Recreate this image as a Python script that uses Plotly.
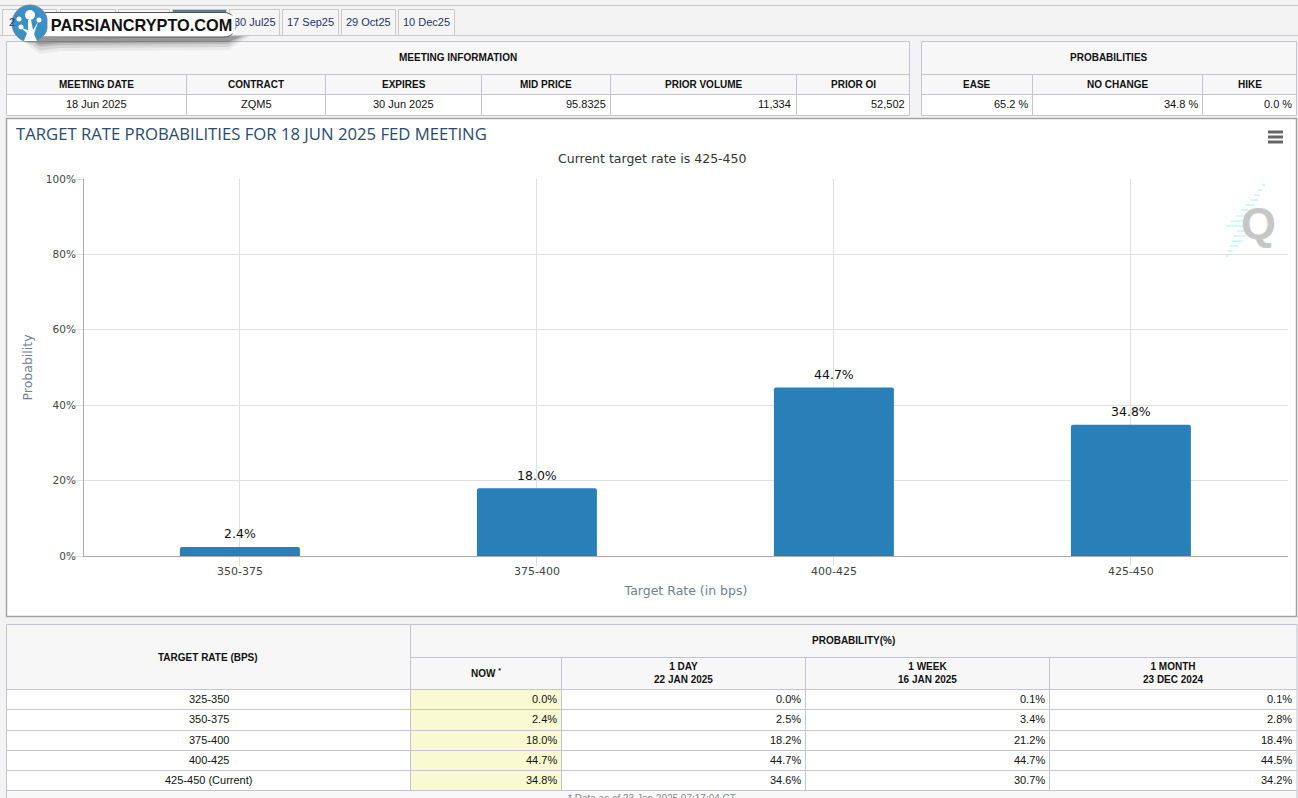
import plotly.graph_objects as go

W, H = 1298, 798

# chart data
RATE_BINS = ['350-375', '375-400', '400-425', '425-450']
RATE_PROBS = [2.4, 18.0, 44.7, 34.8]
Y_TICKS = [0, 20, 40, 60, 80, 100]

# tabs
TAB_LABELS = ['2', '', '', '', '30 Jul25', '17 Sep25', '29 Oct25', '10 Dec25']

# meeting information table
MEETING_HEADERS = ['MEETING DATE', 'CONTRACT', 'EXPIRES', 'MID PRICE', 'PRIOR VOLUME', 'PRIOR OI']
MEETING_VALUES = ['18 Jun 2025', 'ZQM5', '30 Jun 2025', '95.8325', '11,334', '52,502']

# probabilities table
PROB_HEADERS = ['EASE', 'NO CHANGE', 'HIKE']
PROB_VALUES = ['65.2 %', '34.8 %', '0.0 %']

# history table
HIST_RATES = ['325-350', '350-375', '375-400', '400-425', '425-450 (Current)']
HIST_NOW = ['0.0%', '2.4%', '18.0%', '44.7%', '34.8%']
HIST_1D = ['0.0%', '2.5%', '18.2%', '44.7%', '34.6%']
HIST_1W = ['0.1%', '3.4%', '21.2%', '44.7%', '30.7%']
HIST_1M = ['0.1%', '2.8%', '18.4%', '44.5%', '34.2%']
HIST_HEADERS = ['NOW <sup>*</sup>', '1 DAY<br>22 JAN 2025', '1 WEEK<br>16 JAN 2025', '1 MONTH<br>23 DEC 2024']

BORDER = '#c3c3d1'
HEAD_BG = '#f7f7f7'
PAGE_BG = '#f3f3f3'
TABLE_FONT = 'Liberation Sans'
CHART_FONT = 'DejaVu Sans'


def px(x):
    return x / W


def py(y):
    return 1 - y / H


shapes = []
annotations = []


def rect(x0, y0, x1, y1, fill=None, line=BORDER, width=1):
    shapes.append(dict(type='rect', xref='paper', yref='paper', x0=px(x0), y0=py(y0), x1=px(x1), y1=py(y1),
                       fillcolor=fill or 'rgba(0,0,0,0)', line=dict(color=line, width=width), layer='below'))


def label(x, y, text, size=11, color='#111111', anchor='center', font=TABLE_FONT, bold=False):
    if bold:
        text = f'<b>{text}</b>'.replace('<br>', '</b><br><b>')
    annotations.append(dict(x=px(x), y=py(y), xref='paper', yref='paper', text=text, showarrow=False,
                            xanchor=anchor, yanchor='middle', align='center',
                            font=dict(family=font, size=size, color=color)))


def cell(x0, y0, x1, y1, text, fill='#ffffff', anchor='center', size=11, bold=False):
    rect(x0, y0, x1, y1, fill)
    mid = (y0 + y1) / 2 - (0 if bold else 1)
    if anchor == 'right':
        label(x1 - 3, mid, text, size, anchor='right', bold=bold)
    else:
        label((x0 + x1) / 2, mid, text, size, bold=bold)


# top strip and tabs
shapes.append(dict(type='line', xref='paper', yref='paper', x0=0, x1=1, y0=py(5.5), y1=py(5.5),
                   line=dict(color='#c9c9c9', width=1), layer='below'))
shapes.append(dict(type='line', xref='paper', yref='paper', x0=0, x1=1, y0=py(35.5), y1=py(35.5),
                   line=dict(color='#c9c9c9', width=1), layer='below'))
tab_edges = [(2.5, 56.5), (60.5, 115.5), (118.5, 169.5), (172.5, 226.5), (229.5, 279.5),
             (282.5, 338.5), (341.5, 395.5), (398.5, 454.5)]
for i, (x0, x1) in enumerate(tab_edges):
    rect(x0, 9.5, x1, 35.5, '#5d7a96' if i == 3 else '#f5f5f5', '#c9c9c9')
label(7, 22, TAB_LABELS[0], 11, '#25336b', anchor='left')
for i in range(4, 8):
    label(sum(tab_edges[i]) / 2, 22, TAB_LABELS[i], 11, '#25336b')

# meeting information
meeting_cols = [6.5, 186.5, 325.5, 481.5, 610.5, 796.5, 909.5]
rect(meeting_cols[0], 41.5, meeting_cols[-1], 74.5, HEAD_BG)
label(458, 58, 'MEETING INFORMATION', 10, bold=True)
for i in range(6):
    x0, x1 = meeting_cols[i], meeting_cols[i + 1]
    cell(x0, 74.5, x1, 94.5, MEETING_HEADERS[i], HEAD_BG, size=10, bold=True)
    cell(x0, 94.5, x1, 115.5, MEETING_VALUES[i], anchor='right' if i > 2 else 'center')

# probabilities
prob_cols = [921.5, 1032.5, 1202.5, 1296.5]
rect(prob_cols[0], 41.5, prob_cols[-1], 74.5, HEAD_BG)
label(1109, 58, 'PROBABILITIES', 10, bold=True)
for i in range(3):
    x0, x1 = prob_cols[i], prob_cols[i + 1]
    cell(x0, 74.5, x1, 94.5, PROB_HEADERS[i], HEAD_BG, size=10, bold=True)
    cell(x0, 94.5, x1, 115.5, PROB_VALUES[i], anchor='right')

# chart frame
rect(6.5, 118.5, 1296.5, 616.5, '#ffffff', '#a3a3a3', 1.5)
for y in (132, 137, 142):
    shapes.append(dict(type='line', xref='paper', yref='paper', x0=px(1268), x1=px(1283), y0=py(y), y1=py(y),
                       line=dict(color='#666666', width=3)))

# watermark streaks
streaks = [(185, 1262, 1265), (190, 1258, 1262), (195, 1254, 1260), (200, 1250, 1258), (205, 1245, 1255),
           (210, 1241, 1248), (216, 1236, 1244), (221, 1231, 1244), (226, 1226, 1244), (231, 1237, 1244),
           (236, 1234, 1245), (241, 1232, 1243), (246, 1230, 1238), (251, 1228, 1233), (256, 1226, 1228)]
for y, x0, x1 in streaks:
    shapes.append(dict(type='line', xref='paper', yref='paper', x0=px(x0), x1=px(x1), y0=py(y), y1=py(y),
                       line=dict(color='#c8f5f7', width=1.5)))
label(1258, 223, '<b>Q</b>', 45, '#c6c6c6')

# history table
hist_cols = [6.5, 410.5, 561.5, 805.5, 1049.5, 1297]
hist_rows = [689.5, 709.5, 730.5, 750.5, 770.5, 790.5]
rect(6.5, 624.5, 410.5, 689.5, HEAD_BG)
label(208, 657, 'TARGET RATE (BPS)', 10, bold=True)
rect(410.5, 624.5, 1297, 657.5, HEAD_BG)
label(853, 640, 'PROBABILITY(%)', 10, bold=True)
for i in range(4):
    rect(hist_cols[i + 1], 657.5, hist_cols[i + 2], 689.5, HEAD_BG)
    label((hist_cols[i + 1] + hist_cols[i + 2]) / 2, 673, HIST_HEADERS[i], 10, bold=True)
for r in range(5):
    y0, y1 = hist_rows[r], hist_rows[r + 1]
    cell(hist_cols[0], y0, hist_cols[1], y1, HIST_RATES[r])
    cell(hist_cols[1], y0, hist_cols[2], y1, HIST_NOW[r], '#fafad2', 'right')
    cell(hist_cols[2], y0, hist_cols[3], y1, HIST_1D[r], anchor='right')
    cell(hist_cols[3], y0, hist_cols[4], y1, HIST_1W[r], anchor='right')
    cell(hist_cols[4], y0, hist_cols[5], y1, HIST_1M[r], anchor='right')
rect(6.5, 790.5, 1297, 810, '#f8f8f8')
label(652, 798, '* Data as of 23 Jan 2025 07:17:04 CT', 10, '#8a8a8a')

# logo badge over the tabs
for grow, alpha in ((10, 0.06), (7, 0.1), (4, 0.14), (2, 0.2)):
    shapes.append(dict(type='path', xref='paper', yref='paper',
                       path=f'M {px(28 - grow)},{py(38)} L {px(240 + grow)},{py(36)} L {px(228)},{py(40 + grow)} '
                            f'L {px(60)},{py(41 + grow)} L {px(40)},{py(42 + 1.2 * grow)} Z',
                       fillcolor=f'rgba(30,30,30,{alpha})', line=dict(width=0)))
shapes.append(dict(type='path', xref='paper', yref='paper',
                   path=f'M {px(36)},{py(12.5)} L {px(224)},{py(12.5)} C {px(240)},{py(12.5)} {px(240)},{py(37)} '
                        f'{px(224)},{py(37)} L {px(36)},{py(37)} Z',
                   fillcolor='#ffffff', line=dict(color='#555555', width=1)))
shapes.append(dict(type='circle', xref='paper', yref='paper', x0=px(12), x1=px(48), y0=py(5), y1=py(42),
                   fillcolor='#3b8fc4', line=dict(color='#7d8a94', width=1)))
for cx, cy, r in [(30, 15, 5), (19, 19, 2.5), (39, 20, 2.5), (21, 27, 2.5)]:
    shapes.append(dict(type='circle', xref='paper', yref='paper', x0=px(cx - r), x1=px(cx + r),
                       y0=py(cy - r), y1=py(cy + r), fillcolor='#ffffff', line=dict(width=0)))
shapes.append(dict(type='path', xref='paper', yref='paper',
                   path=f'M {px(28)},{py(20)} L {px(31)},{py(20)} L {px(33)},{py(30)} L {px(38)},{py(22)} '
                        f'L {px(34)},{py(34)} L {px(37)},{py(41)} L {px(24)},{py(41)} L {px(27)},{py(33)} '
                        f'L {px(21)},{py(28)} L {px(28)},{py(30)} Z',
                   fillcolor='#ffffff', line=dict(width=0)))
# white box of the badge text also hides the part of the next tab under the badge
annotations.append(dict(x=px(141), y=py(25), xref='paper', yref='paper', text='<b>PARSIANCRYPTO.COM</b>',
                        showarrow=False, bgcolor='#ffffff', width=187, height=17, borderpad=0,
                        xanchor='center', yanchor='middle',
                        font=dict(family=TABLE_FONT, size=16.3, color='#111111')))

# subtitle
label(652, 158, 'Current target rate is 425-450', 12.5, '#333333', font=CHART_FONT)

# value labels over the bars
for rate, prob in zip(RATE_BINS, RATE_PROBS):
    annotations.append(dict(x=rate, y=prob, xref='x', yref='y', text=f'{prob:.1f}%', showarrow=False,
                            xanchor='center', yanchor='middle', yshift=13,
                            font=dict(family=CHART_FONT, size=12.5, color='#111111')))

fig = go.Figure(
    go.Bar(
        x=RATE_BINS,
        y=RATE_PROBS,
        width=0.404,
        marker=dict(color='#2980b9', cornerradius=2, line=dict(width=0)),
    )
)

fig.update_layout(
    width=W,
    height=H,
    margin=dict(l=0, r=0, t=0, b=0, autoexpand=False),
    paper_bgcolor=PAGE_BG,
    plot_bgcolor='rgba(0,0,0,0)',
    showlegend=False,
    title=dict(text='TARGET RATE PROBABILITIES FOR 18 JUN 2025 FED MEETING', x=px(16), xanchor='left',
               y=py(134), yanchor='middle', font=dict(family='Open Sans', size=16.7, color='#2b4a6d')),
    shapes=shapes,
    annotations=annotations,
    xaxis=dict(
        domain=[px(84), px(1288)],
        type='category',
        range=[-0.525, 3.529],
        showgrid=True,
        gridcolor='#e0e0e0',
        ticks='outside',
        ticklen=9,
        tickcolor='#e0e0e0',
        ticklabelstandoff=-4,
        showline=True,
        linecolor='#aaaaaa',
        tickfont=dict(family=CHART_FONT, size=11, color='#444444'),
        title=dict(text='Target Rate (in bps)', standoff=9, font=dict(family=CHART_FONT, size=12.5, color='#6f7f8f')),
    ),
    yaxis=dict(
        domain=[py(556), py(179)],
        range=[0, 100],
        tickvals=Y_TICKS,
        ticktext=[f'{t}%' for t in Y_TICKS],
        showgrid=True,
        gridcolor='#e0e0e0',
        zeroline=False,
        ticks='outside',
        ticklen=8,
        tickcolor='#e0e0e0',
        ticklabelstandoff=-3,
        showline=True,
        linecolor='#aaaaaa',
        tickfont=dict(family=CHART_FONT, size=10.5, color='#444444'),
        title=dict(text='Probability', standoff=10, font=dict(family=CHART_FONT, size=12.5, color='#6f7f8f')),
    ),
)

fig.write_html(
    'out.html',
    config={'displayModeBar': False},
    post_script="document.body.style.margin='0';document.body.style.overflow='hidden';",
)
